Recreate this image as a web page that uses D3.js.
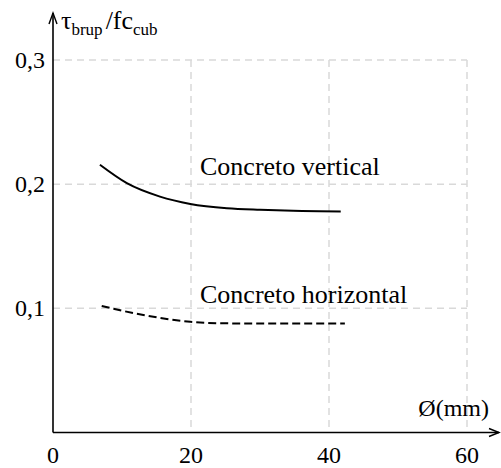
<!DOCTYPE html>
<html>
<head>
<meta charset="utf-8">
<script src="https://cdn.jsdelivr.net/npm/d3@7"></script>
</head>
<body style="margin:0">
<svg id="chart" width="501" height="468"></svg>
<script>
// tick values / labels
const xTicks = [0, 20, 40, 60];
const yTicks = [0.1, 0.2, 0.3];
const yTickLabels = ["0,1", "0,2", "0,3"];

// Concreto vertical (solid)
const vertX = [6.8, 10.7, 15.5, 19.9, 25.2, 30.0, 34.8, 41.7];
const vertY = [0.2156, 0.2008, 0.1900, 0.1841, 0.1806, 0.1793, 0.1785, 0.1780];

// Concreto horizontal (dashed)
const horX = [7.06, 13.1, 19.9, 25.2, 33.0, 42.3];
const horY = [0.1019, 0.0946, 0.0892, 0.0879, 0.0878, 0.0878];

const serif = '"Liberation Serif"';

const svg = d3.select('#chart');

const x = d3.scaleLinear().domain([0, 60]).range([53, 467]);
const y = d3.scaleLinear().domain([0, 0.3]).range([432.5, 60]);

// grid
svg.append('g').selectAll('line')
  .data(xTicks.slice(1)).enter().append('line')
  .attr('x1', d => x(d)).attr('x2', d => x(d))
  .attr('y1', y(0.3)).attr('y2', y(0))
  .attr('stroke', '#d9d9d9').attr('stroke-width', 1.5)
  .attr('stroke-dasharray', '7,5');

svg.append('g').selectAll('line')
  .data(yTicks).enter().append('line')
  .attr('x1', x(0)).attr('x2', x(60))
  .attr('y1', d => y(d)).attr('y2', d => y(d))
  .attr('stroke', '#d9d9d9').attr('stroke-width', 1.5)
  .attr('stroke-dasharray', '7,5');

// axes with open arrows
svg.append('line')
  .attr('x1', x(0)).attr('x2', 499)
  .attr('y1', y(0)).attr('y2', y(0))
  .attr('stroke', '#000').attr('stroke-width', 1.6);
svg.append('path')
  .attr('d', `M489,${y(0) - 4} L499,${y(0)} L489,${y(0) + 4}`)
  .attr('fill', 'none').attr('stroke', '#000').attr('stroke-width', 1.4);

svg.append('line')
  .attr('x1', x(0)).attr('x2', x(0))
  .attr('y1', y(0)).attr('y2', 13)
  .attr('stroke', '#000').attr('stroke-width', 1.6);
svg.append('path')
  .attr('d', `M${x(0) - 4},24 L${x(0)},13 L${x(0) + 4},24`)
  .attr('fill', 'none').attr('stroke', '#000').attr('stroke-width', 1.4);

// tick labels
svg.append('g').selectAll('text')
  .data(xTicks).enter().append('text')
  .style('font-family', serif)
  .style('font-size', '24px')
  .attr('x', d => x(d)).attr('y', 463)
  .attr('text-anchor', 'middle')
  .text(d => d);

svg.append('g').selectAll('text')
  .data(yTicks).enter().append('text')
  .style('font-family', serif)
  .style('font-size', '24px')
  .attr('x', 45).attr('y', d => y(d) + 8)
  .attr('text-anchor', 'end')
  .text((d, i) => yTickLabels[i]);

// axis titles
const yTitle = svg.append('text')
  .style('font-family', serif).style('font-size', '26px')
  .attr('x', 61).attr('y', 29);
yTitle.append('tspan').text('τ');
yTitle.append('tspan').attr('dy', 6).style('font-size', '17px').text('brup');
yTitle.append('tspan').attr('dy', -6).attr('dx', 3).text('/fc');
yTitle.append('tspan').attr('dy', 6).style('font-size', '17px').text('cub');

svg.append('text')
  .style('font-family', serif)
  .style('font-size', '24px')
  .attr('x', 489).attr('y', 416)
  .attr('text-anchor', 'end')
  .text('Ø(mm)');

// curves
const line = d3.line().curve(d3.curveMonotoneX);

svg.append('path')
  .attr('d', line(vertX.map((v, i) => [x(v), y(vertY[i])])))
  .attr('fill', 'none').attr('stroke', '#000').attr('stroke-width', 2);

svg.append('path')
  .attr('d', line(horX.map((v, i) => [x(v), y(horY[i])])))
  .attr('fill', 'none').attr('stroke', '#000').attr('stroke-width', 2)
  .attr('stroke-dasharray', '8,4');

// annotations
svg.append('text')
  .style('font-family', serif)
  .style('font-size', '26px')
  .attr('x', 200).attr('y', 175)
  .text('Concreto vertical');
svg.append('text')
  .style('font-family', serif)
  .style('font-size', '26px')
  .attr('x', 200).attr('y', 303)
  .text('Concreto horizontal');
</script>
</body>
</html>
